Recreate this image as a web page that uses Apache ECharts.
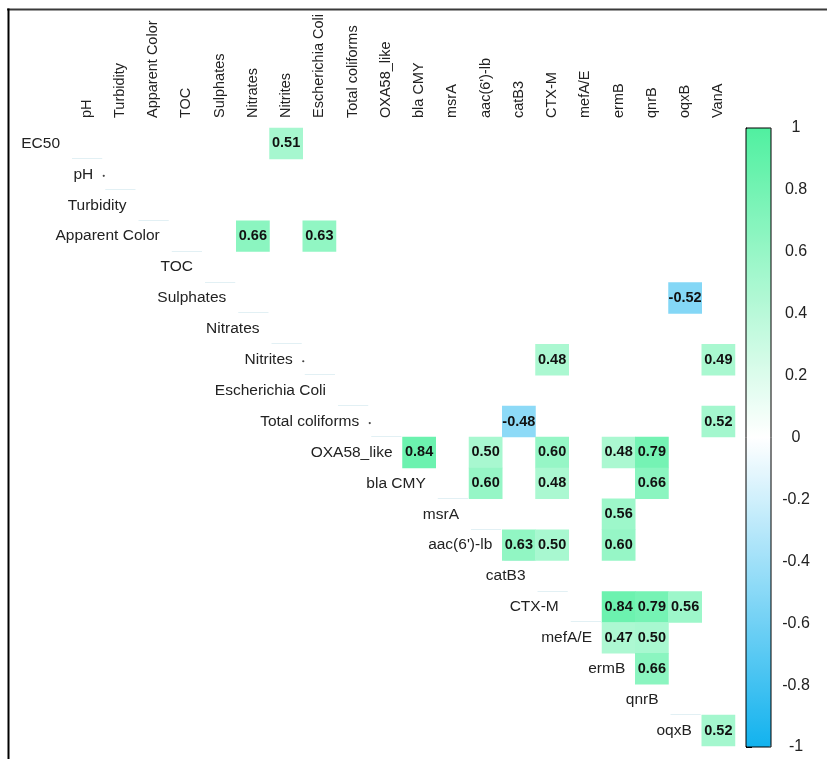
<!DOCTYPE html>
<html>
<head>
<meta charset="utf-8">
<title>Correlation matrix</title>
<script src="https://cdn.jsdelivr.net/npm/echarts@6/dist/echarts.min.js"></script>
<style>
  html, body { margin: 0; padding: 0; background: #ffffff; }
  #chart { width: 827px; height: 759px; }
</style>
</head>
<body>
<div id="chart"></div>
<script>
// Variables down the rows (upper triangle: each row starts at its own diagonal)
var rowNames = ['EC50', 'pH', 'Turbidity', 'Apparent Color', 'TOC', 'Sulphates', 'Nitrates',
  'Nitrites', 'Escherichia Coli', 'Total coliforms', 'OXA58_like', 'bla CMY', 'msrA',
  'aac(6\')-lb', 'catB3', 'CTX-M', 'mefA/E', 'ermB', 'qnrB', 'oqxB'];

// Variables across the columns
var colNames = ['pH', 'Turbidity', 'Apparent Color', 'TOC', 'Sulphates', 'Nitrates', 'Nitrites',
  'Escherichia Coli', 'Total coliforms', 'OXA58_like', 'bla CMY', 'msrA', 'aac(6\')-lb',
  'catB3', 'CTX-M', 'mefA/E', 'ermB', 'qnrB', 'oqxB', 'VanA'];

// Significant correlation coefficients: [row, column, r]
var significant = [
  ['EC50', 'Nitrites', 0.51],
  ['Apparent Color', 'Nitrates', 0.66],
  ['Apparent Color', 'Escherichia Coli', 0.63],
  ['Sulphates', 'oqxB', -0.52],
  ['Nitrites', 'CTX-M', 0.48],
  ['Nitrites', 'VanA', 0.49],
  ['Total coliforms', 'catB3', -0.48],
  ['Total coliforms', 'VanA', 0.52],
  ['OXA58_like', 'bla CMY', 0.84],
  ['OXA58_like', 'aac(6\')-lb', 0.50],
  ['OXA58_like', 'CTX-M', 0.60],
  ['OXA58_like', 'ermB', 0.48],
  ['OXA58_like', 'qnrB', 0.79],
  ['bla CMY', 'aac(6\')-lb', 0.60],
  ['bla CMY', 'CTX-M', 0.48],
  ['bla CMY', 'qnrB', 0.66],
  ['msrA', 'ermB', 0.56],
  ['aac(6\')-lb', 'catB3', 0.63],
  ['aac(6\')-lb', 'CTX-M', 0.50],
  ['aac(6\')-lb', 'ermB', 0.60],
  ['CTX-M', 'ermB', 0.84],
  ['CTX-M', 'qnrB', 0.79],
  ['CTX-M', 'oqxB', 0.56],
  ['mefA/E', 'ermB', 0.47],
  ['mefA/E', 'qnrB', 0.50],
  ['ermB', 'qnrB', 0.66],
  ['oqxB', 'VanA', 0.52]
];

// Rows whose first cell carries a small marker dot
var dottedRows = ['pH', 'Nitrites', 'Total coliforms'];

// Colour scale
var scaleMin = -1, scaleMax = 1, scaleStep = 0.2;
var scaleColors = ['#12b2ee', '#ffffff', '#50f0a0'];

var FONT = 'Arial, "Liberation Sans", Helvetica, sans-serif';

var heatData = significant.map(function (d) {
  return [colNames.indexOf(d[1]), rowNames.indexOf(d[0]), d[2]];
});

// Row labels sit just left of each row's first upper-triangle cell
var diagData = rowNames.map(function (name, i) { return [i, i]; });

var chart = echarts.init(document.getElementById('chart'), null, { renderer: 'canvas' });

chart.setOption({
  animation: false,
  backgroundColor: '#ffffff',
  grid: [
    { left: 70, top: 128, width: 665, height: 618, show: false },
    { left: 746, top: 128, width: 25, height: 619, show: true, z: 10,
      backgroundColor: 'transparent', borderColor: '#000', borderWidth: 1 }
  ],
  xAxis: [
    {
      gridIndex: 0, type: 'category', data: colNames, position: 'top',
      axisLine: { show: false }, axisTick: { show: false }, splitLine: { show: false },
      axisLabel: {
        interval: 0, rotate: -90, margin: 10,
        fontFamily: FONT, fontSize: 14.5, color: '#222'
      }
    },
    { gridIndex: 1, type: 'value', show: false, min: 0, max: 1 }
  ],
  yAxis: [
    {
      gridIndex: 0, type: 'category', data: rowNames, inverse: true, show: false
    },
    {
      gridIndex: 1, type: 'value', position: 'right',
      min: scaleMin, max: scaleMax, interval: scaleStep,
      axisLine: { show: true, lineStyle: { color: '#000', width: 1 } },
      axisTick: { show: true, length: 6, lineStyle: { color: '#000' } },
      splitLine: { show: false },
      axisLabel: {
        margin: 25, align: 'center', fontFamily: FONT, fontSize: 16, color: '#222',
        formatter: function (v) { return String(Math.round(v * 10) / 10); }
      }
    }
  ],
  visualMap: {
    type: 'continuous',
    seriesIndex: 0,
    min: scaleMin, max: scaleMax,
    calculable: false,
    orient: 'vertical',
    left: 746, top: 128,
    itemWidth: 25, itemHeight: 619,
    padding: 0,
    text: null,
    showLabel: false,
    inRange: { color: scaleColors }
  },
  series: [
    {
      type: 'heatmap',
      xAxisIndex: 0, yAxisIndex: 0,
      data: heatData,
      itemStyle: { borderWidth: 0 },
      label: {
        show: true,
        fontFamily: FONT, fontSize: 14.5, fontWeight: 'bold', color: '#111',
        formatter: function (p) { return p.value[2].toFixed(2); }
      },
      emphasis: { disabled: true }
    },
    {
      type: 'custom',
      xAxisIndex: 0, yAxisIndex: 0,
      data: diagData,
      silent: true,
      z: 1,
      renderItem: function (params, api) {
        var col = api.value(0), row = api.value(1);
        var p = api.coord([col, row]);
        var sz = api.size([1, 1]);
        var w = sz[0], h = sz[1];
        var left = p[0] - w / 2;
        var bottom = Math.round(p[1] + h / 2) - 0.5;
        var children = [
          {
            // faint cell edge under the first cell of each row
            type: 'line',
            shape: { x1: left + 2, y1: bottom, x2: left + w - 1, y2: bottom },
            style: { stroke: '#e2f0f4', lineWidth: 1 }
          },
          {
            type: 'text',
            style: {
              text: rowNames[row], x: left - 10, y: p[1],
              align: 'right', verticalAlign: 'middle',
              font: '15.5px ' + FONT, fill: '#222'
            }
          }
        ];
        if (dottedRows.indexOf(rowNames[row]) >= 0) {
          children.push({
            type: 'circle',
            shape: { cx: left + 0.5, cy: p[1] + 1.5, r: 1.1 },
            style: { fill: '#444' }
          });
        }
        return { type: 'group', children: children };
      }
    }
  ],
  graphic: [
    { type: 'line', shape: { x1: 7, y1: 9.5, x2: 827, y2: 9.5 },
      style: { stroke: '#3a3a3a', lineWidth: 2 }, z: 100 },
    { type: 'line', shape: { x1: 8.5, y1: 8.5, x2: 8.5, y2: 759 },
      style: { stroke: '#000', lineWidth: 2 }, z: 100 }
  ]
});
</script>
</body>
</html>
